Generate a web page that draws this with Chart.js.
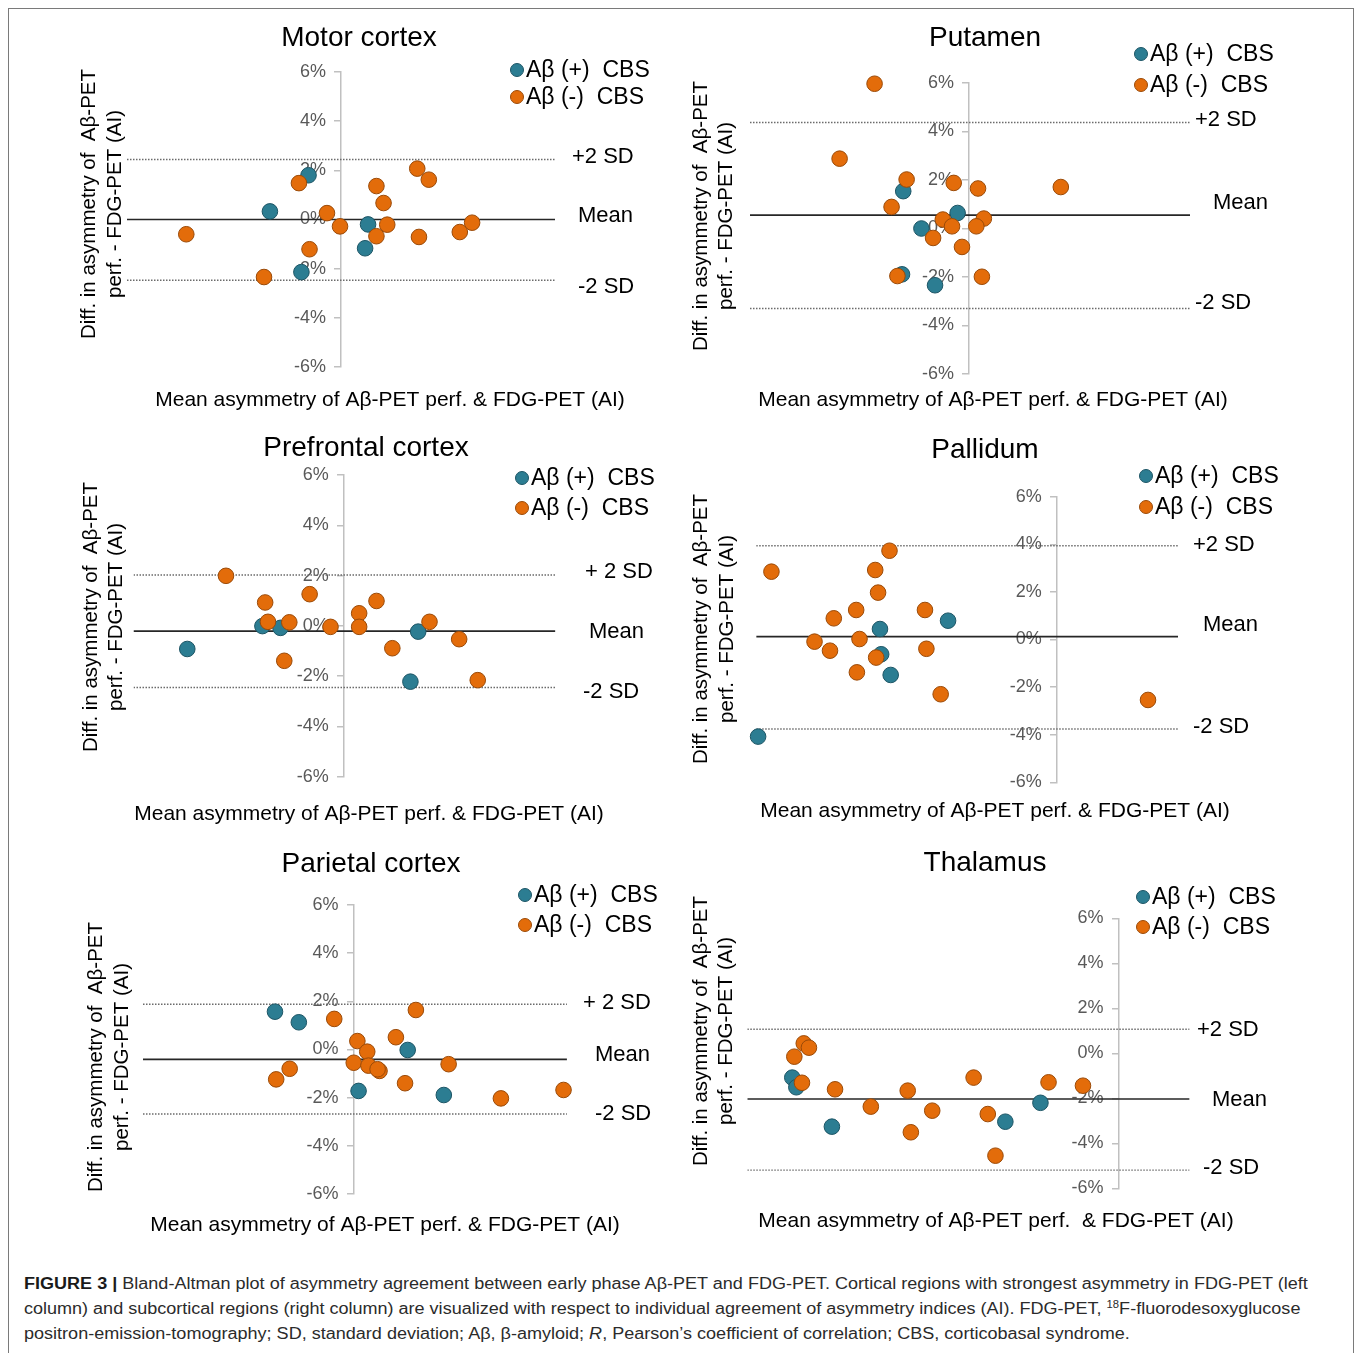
<!DOCTYPE html>
<html>
<head>
<meta charset="utf-8">
<script src="https://cdn.jsdelivr.net/npm/chart.js@4.4.1/dist/chart.umd.min.js"></script>
<style>
  body { margin: 0; background: #fff; width: 1360px; height: 1353px; overflow: hidden; position: relative; }
  #frame { position: absolute; left: 8px; top: 8px; width: 1346px; height: 1400px; border: 1.5px solid #7a7a7a; box-sizing: border-box; }
  canvas { position: absolute; }
  .cap { position: absolute; left: 24px; white-space: nowrap; font: 16px "Liberation Sans", Arial, sans-serif; line-height: 18px; color: #2b2b2b; transform-origin: 0 0; }
  .cap b { font-weight: bold; color: #1a1a1a; }
  .cap sup { font-size: 10px; line-height: 0; }
</style>
</head>
<body>
<div id="frame"></div>
<div class="cap" id="cap1" style="top:1275px"><b>FIGURE 3 |</b> Bland-Altman plot of asymmetry agreement between early phase Aβ-PET and FDG-PET. Cortical regions with strongest asymmetry in FDG-PET (left</div>
<div class="cap" id="cap2" style="top:1300px">column) and subcortical regions (right column) are visualized with respect to individual agreement of asymmetry indices (AI). FDG-PET, <sup>18</sup>F-fluorodesoxyglucose</div>
<div class="cap" id="cap3" style="top:1325px">positron-emission-tomography; SD, standard deviation; Aβ, β-amyloid; <i>R</i>, Pearson’s coefficient of correlation; CBS, corticobasal syndrome.</div>
<script>
const seriesNames = ["Aβ (+)  CBS", "Aβ (-)  CBS"];
const yTitleLines = ["Diff. in asymmetry of  Aβ-PET", "perf. - FDG-PET (AI)"];
const xTitle = "Mean asymmetry of Aβ-PET perf. & FDG-PET (AI)";
const xTitleThalamus = "Mean asymmetry of Aβ-PET perf.  & FDG-PET (AI)";
const yTicks = [-6, -4, -2, 0, 2, 4, 6];
const sdLabels = ["+2 SD", "Mean", "-2 SD"];
const sdLabelsSpaced = ["+ 2 SD", "Mean", "-2 SD"];

// [mean AI, diff AI] in %; limits = [+2 SD, mean, -2 SD]
const motorPos = [[-2.89, 0.33], [-1.32, 1.80], [1.10, -0.20], [0.98, -1.17], [-1.61, -2.14]];
const motorNeg = [[-6.29, -0.60], [-3.13, -2.34], [-1.71, 1.48], [-1.28, -1.21], [-0.57, 0.26], [-0.04, -0.28],
  [1.44, 1.36], [1.73, 0.67], [1.88, -0.21], [1.44, -0.68], [3.10, 2.07], [3.57, 1.62], [3.17, -0.71],
  [4.83, -0.51], [5.33, -0.13]];
const motorLimits = [2.44, 0.0, -2.47];
const motorRange = [-8.7, 8.7];

const putamenPos = [[-2.71, 1.54], [-0.47, 0.64], [-1.96, 0.00], [-2.76, -1.89], [-1.40, -2.34]];
const putamenNeg = [[-3.89, 5.97], [-5.33, 2.88], [-2.57, 2.02], [-3.19, 0.89], [-0.63, 1.88], [0.37, 1.65],
  [3.78, 1.71], [-1.08, 0.37], [-0.70, 0.09], [0.61, 0.41], [0.30, 0.09], [-1.48, -0.39], [-0.29, -0.76],
  [-2.95, -1.96], [0.53, -1.99]];
const putamenLimits = [4.37, 0.55, -3.30];
const putamenRange = [-9.02, 9.10];

const prefrontalPos = [[-6.23, -0.92], [-3.24, -0.01], [-2.52, -0.08], [2.96, -0.23], [2.65, -2.22]];
const prefrontalNeg = [[-4.69, 1.99], [-3.13, 0.93], [-3.02, 0.16], [-2.17, 0.14], [-2.37, -1.39], [-1.36, 1.26],
  [-0.53, -0.04], [0.61, 0.50], [0.61, -0.04], [1.30, 0.99], [1.93, -0.89], [3.41, 0.16], [4.59, -0.53],
  [5.33, -2.16]];
const prefrontalLimits = [2.02, -0.21, -2.45];
const prefrontalRange = [-8.37, 8.42];

const pallidumPos = [[-12.55, -4.08], [-7.43, 0.44], [-7.38, -0.62], [-6.98, -1.49], [-4.57, 0.79]];
const pallidumNeg = [[-11.99, 2.85], [-7.03, 3.73], [-7.63, 2.92], [-7.51, 1.97], [-8.43, 1.24], [-9.37, 0.89],
  [-5.54, 1.24], [-10.18, -0.09], [-9.53, -0.47], [-8.29, 0.02], [-7.59, -0.76], [-8.40, -1.38],
  [-5.48, -0.39], [-4.88, -2.30], [3.83, -2.54]];
const pallidumLimits = [3.94, 0.12, -3.76];
const pallidumRange = [-12.63, 5.09];

const parietalPos = [[-3.26, 1.57], [-2.27, 1.13], [2.25, -0.02], [0.21, -1.72], [3.75, -1.89]];
const parietalNeg = [[-0.80, 1.27], [2.59, 1.64], [0.16, 0.35], [1.76, 0.51], [0.57, -0.09], [0.01, -0.55],
  [0.62, -0.67], [1.08, -0.89], [1.00, -0.82], [3.95, -0.61], [-2.65, -0.80], [-3.21, -1.24], [2.14, -1.40],
  [6.12, -2.03], [8.72, -1.68]];
const parietalLimits = [1.88, -0.41, -2.68];
const parietalRange = [-8.74, 8.86];

const thalamusPos = [[-14.50, -1.08], [-14.32, -1.51], [-12.74, -3.26], [-5.03, -3.04], [-3.47, -2.20]];
const thalamusNeg = [[-13.99, 0.44], [-13.76, 0.25], [-14.41, -0.15], [-14.07, -1.31], [-12.60, -1.60],
  [-11.01, -2.37], [-9.37, -1.66], [-9.23, -3.51], [-8.28, -2.55], [-6.44, -1.08], [-5.81, -2.70],
  [-5.47, -4.55], [-3.11, -1.29], [-1.58, -1.44]];
const thalamusLimits = [1.07, -2.03, -5.19];
const thalamusRange = [-16.50, 3.16];

const FONT = '"Liberation Sans", Arial, sans-serif';
const BLUE = "#2c7d92";
const BLUE_EDGE = "#1d5565";
const ORANGE = "#e36c0a";
const ORANGE_EDGE = "#9a4a08";

// page layout: canvas box, plot area [left, right, top, bottom], text anchors
const panels = [
  { title: "Motor cortex", pos: motorPos, neg: motorNeg, limits: motorLimits, range: motorRange, labels: sdLabels, xTitle,
    box: [15, 10, 665, 415], area: [127, 555, 72, 367],
    titleAt: [359, 38], legendAt: [517, 70, 97], sdAt: [[572, 157], [578, 216], [578, 287]],
    yTitleX: [89, 115], yTitleY: 204, xTitleAt: [390, 400] },
  { title: "Putamen", pos: putamenPos, neg: putamenNeg, limits: putamenLimits, range: putamenRange, labels: sdLabels, xTitle,
    box: [680, 10, 670, 415], area: [750, 1190, 83, 374],
    titleAt: [985, 38], legendAt: [1141, 54, 85], sdAt: [[1195, 120], [1213, 203], [1195, 303]],
    yTitleX: [701, 726], yTitleY: 216, xTitleAt: [993, 400] },
  { title: "Prefrontal cortex", pos: prefrontalPos, neg: prefrontalNeg, limits: prefrontalLimits, range: prefrontalRange, labels: sdLabelsSpaced, xTitle,
    box: [15, 425, 665, 415], area: [133.5, 555.4, 475, 776.7],
    titleAt: [366, 448], legendAt: [522, 478, 508], sdAt: [[585, 572], [589, 632], [583, 692]],
    yTitleX: [91, 116], yTitleY: 617, xTitleAt: [369, 814] },
  { title: "Pallidum", pos: pallidumPos, neg: pallidumNeg, limits: pallidumLimits, range: pallidumRange, labels: sdLabels, xTitle,
    box: [680, 425, 670, 415], area: [756.2, 1178, 496.7, 782.3],
    titleAt: [985, 450], legendAt: [1146, 476, 507], sdAt: [[1193, 545], [1203, 625], [1193, 727]],
    yTitleX: [701, 727], yTitleY: 629, xTitleAt: [995, 811] },
  { title: "Parietal cortex", pos: parietalPos, neg: parietalNeg, limits: parietalLimits, range: parietalRange, labels: sdLabelsSpaced, xTitle,
    box: [15, 840, 665, 415], area: [143, 566.9, 905, 1194],
    titleAt: [371, 864], legendAt: [525, 895, 925], sdAt: [[583, 1003], [595, 1055], [595, 1114]],
    yTitleX: [96, 122], yTitleY: 1057, xTitleAt: [385, 1225] },
  { title: "Thalamus", pos: thalamusPos, neg: thalamusNeg, limits: thalamusLimits, range: thalamusRange, labels: sdLabels, xTitle: xTitleThalamus,
    box: [680, 840, 670, 415], area: [747.3, 1189.6, 918.3, 1188.3],
    titleAt: [985, 863], legendAt: [1143, 897, 927], sdAt: [[1197, 1030], [1212, 1100], [1203, 1168]],
    yTitleX: [701, 726], yTitleY: 1031, xTitleAt: [996, 1221] }
];

function panelText(p) {
  return {
    id: "panelText",
    afterDraw(chart) {
      const ctx = chart.ctx;
      const ox = p.box[0];
      const oy = p.box[1];
      ctx.save();
      ctx.textBaseline = "middle";
      ctx.fillStyle = "#000";

      ctx.font = `28px ${FONT}`;
      ctx.textAlign = "center";
      ctx.fillText(p.title, p.titleAt[0] - ox, p.titleAt[1] - oy);

      // legend, taken from the two scatter datasets
      ctx.font = `23px ${FONT}`;
      ctx.textAlign = "left";
      [1, 0].forEach((dsIndex, row) => {
        const ds = chart.data.datasets[dsIndex];
        const cx = p.legendAt[0] - ox;
        const cy = p.legendAt[1 + row] - oy;
        ctx.beginPath();
        ctx.arc(cx, cy, 6.5, 0, Math.PI * 2);
        ctx.fillStyle = ds.backgroundColor;
        ctx.fill();
        ctx.lineWidth = 1;
        ctx.strokeStyle = ds.borderColor;
        ctx.stroke();
        ctx.fillStyle = "#000";
        ctx.fillText(ds.label, cx + 9, cy + 1);
      });

      ctx.font = `22px ${FONT}`;
      p.labels.forEach((label, i) => {
        ctx.fillText(label, p.sdAt[i][0] - ox, p.sdAt[i][1] - oy);
      });

      ctx.font = `21px ${FONT}`;
      ctx.textAlign = "center";
      ctx.fillText(p.xTitle, p.xTitleAt[0] - ox, p.xTitleAt[1] - oy);

      ctx.font = `20.5px ${FONT}`;
      yTitleLines.forEach((line, i) => {
        ctx.save();
        ctx.translate(p.yTitleX[i] - ox, p.yTitleY - oy);
        ctx.rotate(-Math.PI / 2);
        ctx.fillText(line, 0, 0);
        ctx.restore();
      });
      ctx.restore();
    }
  };
}

function makePanel(p) {
  const canvas = document.createElement("canvas");
  canvas.width = p.box[2];
  canvas.height = p.box[3];
  canvas.style.left = `${p.box[0]}px`;
  canvas.style.top = `${p.box[1]}px`;
  document.body.appendChild(canvas);

  const points = (list) => list.map(([x, y]) => ({ x, y }));
  const level = (value) => [{ x: p.range[0], y: value }, { x: p.range[1], y: value }];
  const limitLine = (value, dashed) => ({
    data: level(value),
    showLine: true,
    pointRadius: 0,
    borderColor: dashed ? "#6b6b6b" : "#262626",
    borderWidth: dashed ? 1.4 : 1.6,
    borderDash: dashed ? [1.5, 1.5] : [],
    order: 2
  });

  new Chart(canvas, {
    type: "scatter",
    data: {
      datasets: [
        { label: seriesNames[1], data: points(p.neg), backgroundColor: ORANGE, borderColor: ORANGE_EDGE,
          borderWidth: 1, pointRadius: 7.8, clip: false, order: 0 },
        { label: seriesNames[0], data: points(p.pos), backgroundColor: BLUE, borderColor: BLUE_EDGE,
          borderWidth: 1, pointRadius: 7.8, clip: false, order: 1 },
        limitLine(p.limits[0], true),
        limitLine(p.limits[1], false),
        limitLine(p.limits[2], true)
      ]
    },
    options: {
      responsive: false,
      animation: false,
      devicePixelRatio: 1,
      layout: {
        padding: {
          left: p.area[0] - p.box[0],
          right: p.box[0] + p.box[2] - p.area[1],
          top: p.area[2] - p.box[1],
          bottom: p.box[1] + p.box[3] - p.area[3]
        }
      },
      plugins: { legend: { display: false }, tooltip: { enabled: false } },
      scales: {
        x: { type: "linear", display: false, min: p.range[0], max: p.range[1] },
        y: {
          type: "linear",
          position: { x: 0 },
          min: -6,
          max: 6,
          afterBuildTicks: (axis) => { axis.ticks = yTicks.map((value) => ({ value })); },
          grid: { display: true, drawOnChartArea: false, drawTicks: true, tickLength: 6, color: "#c0c0c0", lineWidth: 1.5 },
          border: { display: true, color: "#c0c0c0", width: 1.5 },
          // labels sit right-aligned on the axis line here, so pad them with trailing spaces
          ticks: { padding: 10, color: "#595959", font: { family: FONT, size: 18 }, callback: (v) => `${v}%   ` }
        }
      }
    },
    plugins: [panelText(p)]
  });
}

panels.forEach(makePanel);

// fit the caption lines to the justified width of the original
const cap1 = document.getElementById("cap1");
const cap2 = document.getElementById("cap2");
const cap3 = document.getElementById("cap3");
const s1 = 1284 / cap1.offsetWidth;
const s2 = 1276 / cap2.offsetWidth;
cap1.style.transform = `scaleX(${s1})`;
cap2.style.transform = `scaleX(${s2})`;
cap3.style.transform = `scaleX(${s1})`;
</script>
</body>
</html>
